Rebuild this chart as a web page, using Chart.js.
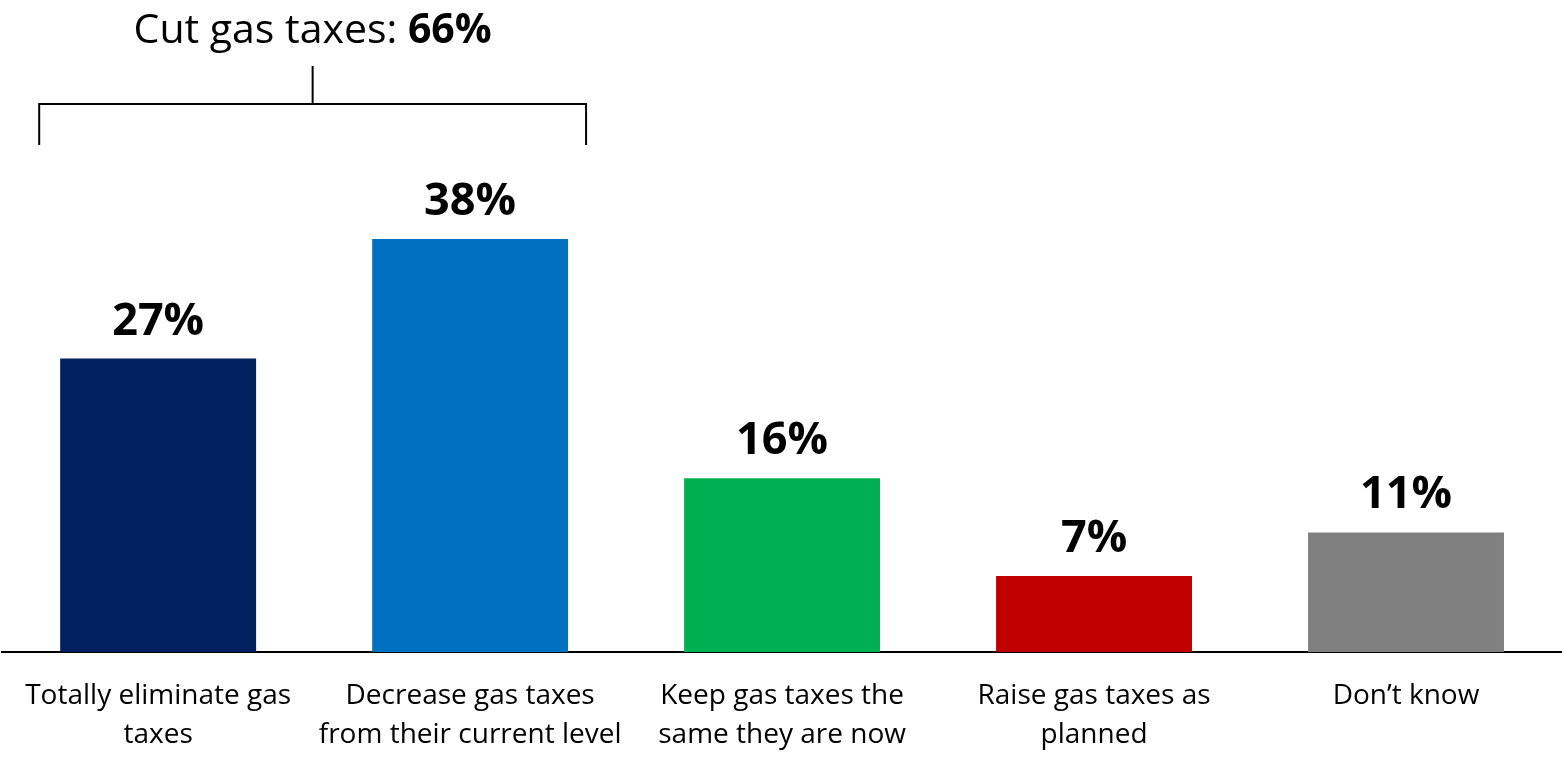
<!DOCTYPE html>
<html>
<head>
<meta charset="utf-8">
<script src="https://cdn.jsdelivr.net/npm/chart.js@4"></script>
<style>
    html, body { margin: 0; padding: 0; background: #fff; }
    #wrap { width: 1562px; height: 758px; }
</style>
</head>
<body>
<div id="wrap"><canvas id="chart"></canvas></div>
<script>
const categories = [
    ["Totally eliminate gas", "taxes"],
    ["Decrease gas taxes", "from their current level"],
    ["Keep gas taxes the", "same they are now"],
    ["Raise gas taxes as", "planned"],
    ["Don\u2019t know"]
];
const shares = [27, 38, 16, 7, 11];
const barColors = ["#002060", "#0070C0", "#00B050", "#C00000", "#808080"];
const bracketLabel = "Cut gas taxes: ";
const bracketValue = "66%";

const FONT = "'Open Sans', Lato, sans-serif";

// value labels above each bar
const valueLabels = {
    id: "valueLabels",
    afterDatasetsDraw(chart) {
        const ctx = chart.ctx;
        const meta = chart.getDatasetMeta(0);
        ctx.save();
        ctx.fillStyle = "#000";
        ctx.font = `bold 45px ${FONT}`;
        ctx.textAlign = "center";
        ctx.textBaseline = "alphabetic";
        meta.data.forEach((bar, i) => {
            ctx.fillText(shares[i] + "%", bar.x, bar.y - 24);
        });
        ctx.restore();
    }
};

// bracket over the first two bars with the combined share
const bracket = {
    id: "bracket",
    afterDraw(chart) {
        const ctx = chart.ctx;
        const meta = chart.getDatasetMeta(0);
        const a = meta.data[0], b = meta.data[1];
        const left = a.x - a.width / 2 - 21;
        const right = b.x + b.width / 2 + 18;
        const mid = (left + right) / 2;
        const yTop = 66, yBar = 104, yEnd = 145;

        ctx.save();
        ctx.strokeStyle = "#000";
        ctx.lineWidth = 2;
        ctx.beginPath();
        ctx.moveTo(mid, yTop);
        ctx.lineTo(mid, yBar);
        ctx.moveTo(left, yEnd);
        ctx.lineTo(left, yBar);
        ctx.lineTo(right, yBar);
        ctx.lineTo(right, yEnd);
        ctx.stroke();

        ctx.fillStyle = "#000";
        ctx.textBaseline = "alphabetic";
        ctx.textAlign = "left";
        ctx.font = `41px ${FONT}`;
        const w1 = ctx.measureText(bracketLabel).width;
        ctx.font = `bold 41px ${FONT}`;
        const w2 = ctx.measureText(bracketValue).width;
        const start = mid - (w1 + w2) / 2;
        ctx.font = `41px ${FONT}`;
        ctx.fillText(bracketLabel, start, 43);
        ctx.font = `bold 41px ${FONT}`;
        ctx.fillText(bracketValue, start + w1, 43);
        ctx.restore();
    }
};

new Chart(document.getElementById("chart"), {
    type: "bar",
    data: {
        labels: categories,
        datasets: [{
            data: shares,
            backgroundColor: barColors,
            borderWidth: 0,
            categoryPercentage: 1,
            barPercentage: 0.628
        }]
    },
    options: {
        responsive: true,
        maintainAspectRatio: false,
        animation: false,
        layout: { padding: { left: 2, right: 0, top: 0, bottom: 0 } },
        plugins: {
            legend: { display: false },
            tooltip: { enabled: false }
        },
        scales: {
            x: {
                grid: { display: false, drawTicks: false },
                border: { display: true, color: "#000", width: 2 },
                ticks: {
                    color: "#000",
                    font: { family: FONT, size: 28, lineHeight: 1.39 },
                    padding: 25,
                    maxRotation: 0,
                    autoSkip: false
                },
                afterFit(scale) { scale.height = 106; }
            },
            y: {
                display: false,
                min: 0,
                max: 60
            }
        }
    },
    plugins: [valueLabels, bracket]
});
</script>
</body>
</html>
